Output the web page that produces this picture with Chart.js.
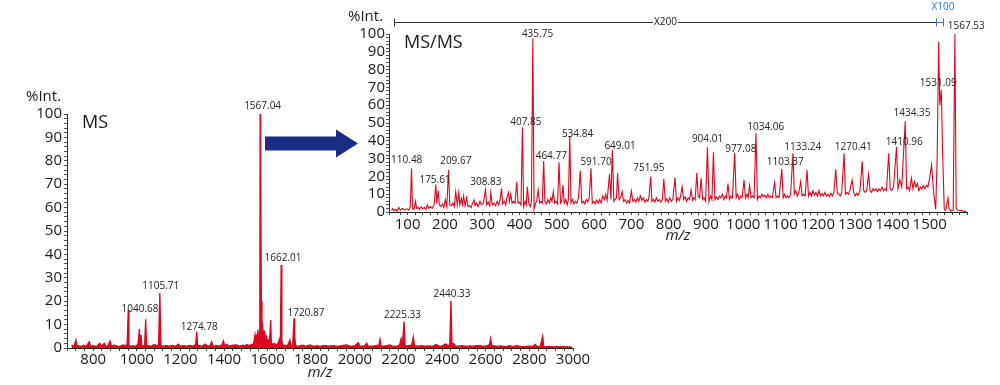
<!DOCTYPE html>
<html><head><meta charset="utf-8">
<script src="https://cdn.jsdelivr.net/npm/chart.js@4.4.0/dist/chart.umd.min.js"></script>
<style>
html,body{margin:0;padding:0;background:#fff;width:1000px;height:385px;overflow:hidden;}
canvas{position:absolute;left:0;top:0;}
</style></head><body>
<canvas id="ms" width="1000" height="385"></canvas>
<canvas id="msms" width="1000" height="385"></canvas>
<script>
// ---------- MS spectrum (m/z, %Int.) ----------
const msMz = [701,712,721,726,732,745,755,768,782,788,801,815,831,838,851,858,868,877,884,896,908,920,938,950,956,961,964,975,984,995,1005,1012,1015,1019,1023,1030,1036,1040.68,1045,1053,1065,1075,1083,1092,1100,1105.71,1108,1111,1120,1130,1137,1150,1165,1178,1190,1200,1212,1229,1245,1258,1270,1274.78,1279,1290,1300,1313,1325,1336,1343,1350,1366,1380,1392,1397,1403,1412,1425,1440,1458,1470,1485,1496,1504,1515,1525,1535,1542,1546,1553,1557,1561,1564,1565.5,1567.04,1569,1571,1574,1578,1582,1586,1590,1594,1598,1603,1608,1614,1617,1623,1630,1640,1648,1655,1658,1662.01,1665,1670,1680,1690,1702,1706,1715,1720.87,1724,1728,1740,1748,1760,1775,1794,1810,1825,1840,1860,1880,1901,1920,1940,1962,1980,2000,2016,2022,2031,2045,2054,2060,2077,2095,2110,2115,2120,2130,2145,2161,2175,2192,2205,2212,2218,2225.33,2230,2245,2260,2268,2273,2290,2305,2321,2340,2355,2372,2385,2398,2416,2428,2435,2440.33,2445,2456,2462,2474,2490,2510,2525,2543,2560,2574,2590,2605,2617,2622,2628,2635,2650,2670,2685,2696,2710,2725,2742,2760,2780,2800,2815,2826,2835,2850,2861,2866,2872,2890,2910,2925,2940,2960,2980,2996];
const msInt = [1.3,0.7,3.4,0.8,1.0,0.6,1.2,0.7,2.7,0.8,1.0,0.6,2.0,0.8,2.0,0.7,1.0,3.0,0.8,1.2,0.9,0.6,1.3,0.8,2.0,16.2,1.0,0.8,1.0,0.7,1.5,8.1,1.5,5.6,1.0,1.0,1.2,12.3,1.0,1.0,0.7,1.2,1.5,0.8,1.5,23.6,13.4,1.0,0.7,1.0,1.0,0.8,1.1,0.7,1.7,0.8,1.0,0.8,1.1,0.8,1.5,7.0,1.0,1.0,0.7,1.7,0.8,1.0,2.7,0.8,1.0,0.8,1.5,3.1,1.2,1.5,0.8,1.2,1.3,0.8,1.2,0.9,1.5,1.0,1.5,1.8,5.6,2.0,6.3,3.0,7.7,8.0,100,100,84.6,20,12,8,6,7,4.5,5,3,3.5,2,12,2,1.5,2,1.2,2.2,4,2,35.5,3,1.0,1.2,0.8,3.4,1.0,1.5,12.7,5,1.0,0.8,0.9,1.2,0.7,1.3,0.7,1.0,0.7,1.1,0.8,1.0,0.7,1.0,1.3,0.7,1.0,2.3,0.8,0.8,1.0,2.0,0.8,0.8,1.0,1.2,3.7,0.9,0.8,1.0,1.3,0.7,0.8,1.2,4.1,1.5,11.3,1.0,1.0,1.2,4.8,1.0,0.8,1.0,0.8,0.9,0.7,1.5,0.8,0.8,1.7,1.0,1.5,20.2,2.0,1.7,0.8,0.8,1.0,0.7,0.9,0.8,1.0,1.0,0.7,0.9,1.5,4.1,1.0,1.0,0.7,0.9,0.6,0.7,1.0,0.6,1.0,0.7,0.6,0.8,0.6,1.5,0.7,0.8,5.1,0.6,0.5,0.7,0.5,0.6,0.6,0.5,0.5,0.4];
const msLabels = ['1567.04','1662.01','1105.71','1040.68','1274.78','1720.87','2225.33','2440.33'];
const msLabelMz = [1576.8,1670.4,1110,1014.7,1286.1,1775.8,2218.3,2445.2];
const msLabelInt = [103.4,38.5,26.5,16.5,8.8,14.8,14.1,22.9];
const msXTicks = [800,1000,1200,1400,1600,1800,2000,2200,2400,2600,2800,3000];

// ---------- MS/MS spectrum (m/z, %Int.) ----------
const msmsMz = [57,60,64,68,72,76,80,86,92,98,103,107,110.48,113,117,121,124,128,132,136,140,145,149,153,157,161,166,171,175.61,178,182,185,189,193,197,201,205,209.67,213,217,221,225,229,233,237,240,244,247,250,254,258,262,266,270,274,278,281,285,289,294,298,303,308.83,312,316,320,323,327,331,336,340,344,348,351.6,355,359,363,366,370.4,373,376.6,380,384,388,392.7,396,400,404,407.85,411,415,418,421,425,429,432,435.75,439,443,446,450,454,458,461,464.77,468,472,476,480,484,487,490.6,494,498,502,505.9,510,513,516.6,520,524,528,531,534.84,538,542,546,550,554,558,563,567,571,575,579,583,587,591.7,595,599,603,607,611,615,619,623,627,631,635,641.4,645,649.01,653,656,660,663,667,671,675.5,679,683,687,691,695,700,704,708,712,716,720,724,728,732,736,740,744,747,751.95,755,759,763,767,771,775,779,783,787,791,795,799,803,807,811,817,821,825,829,832,836,840,844,848,852,856,860,864,868,871,875.5,879,883,887,891,895,899,904.01,908,912,916,920,924,928,932,936,940,944,948,952,955,959,963,967,971,977.08,981,985,989,993,997,1002,1006,1010,1013,1017,1021,1025,1029,1034.06,1038,1042,1046,1050,1054,1058,1062,1066,1070,1074,1078,1084,1088,1092,1096,1103.37,1107,1111,1115,1119,1123,1127,1133.24,1137,1141,1145,1149,1154,1158,1162,1166,1171,1175,1179,1183,1187,1191,1195,1199,1203,1207,1211,1215,1219,1223,1227,1231,1235,1239,1243,1248,1252,1256,1260,1264,1270.41,1274,1278,1282,1286,1292,1296,1300,1304,1308,1313,1319,1323,1327,1331,1336,1340,1344,1348,1352,1356,1360,1364,1368,1372,1376,1380,1384,1390,1394,1398,1403,1410.96,1415,1420,1425,1434.35,1438,1442,1446,1451,1455,1459,1463,1467,1471,1475,1479,1483,1487,1491,1495,1499,1505,1511,1516,1520,1524,1527,1531.09,1535,1539,1543,1549,1552,1557,1563,1567.53,1571,1576,1582,1590,1598];
const msmsInt = [0.8,2,0.8,1.5,0.6,2.5,1,2,1.2,1.8,1,3,24.5,2,1.5,6,2,2.5,1.5,3,1.8,2.5,1.5,4,2,3,2,4,15.5,5,12,4,3,4.5,2.5,7,3,23.6,4,3.5,5,3,11.4,4,10.9,4,7.5,4,9,3.5,8,3,3.5,2.5,5,6.7,3.5,5,3,6,4,5,12.7,4,5.5,3.5,10.9,4,5,3.5,6,4,7,13.3,4.5,6,4,8,11,6,10,5,6,5,16.9,5,5.5,4,47.6,3,6,4,14.2,5,3,6,97.6,1.5,5,6,12.4,5,6,5,28.7,6,4.5,7,5,8,6,11.4,5,6,4.5,27.9,5,6,15.2,5,7,4,7,42.7,5,7,4.5,6,5,8,23.2,5,6,4.5,7,5.5,8,24.5,5,6,4.5,6.7,5,7,5,9,7,10,6.5,21.3,7,34.8,6,7,8,21.7,7,8,11.4,6,7,5,6.5,5,11.8,6,7,5.5,8,6,9,6.5,8,5.5,7,6,8,19.9,6,7,5.5,8,6,7,5.5,7,18.5,6,7.5,5.5,8,6,7,19.3,6,8,6.5,9,14.2,7,8.5,6,8,7,12.4,6.5,8,7,22,9,8,19,7,8,6,36.3,6,9,7,33.5,7,8.5,7,9,8,10,7,9,8,16,7,9,8,33.3,8,10,7,9,8,18,8,10,8,15,8,9,8,44.2,7,9,8,10,8.5,9.5,8,10,8,9,8,16.5,8,9,8,24.2,8,10,8,9,8,10,33,10,12,9,11,17,9,10,9,23.6,9,11,9,12,9.5,11,9,12,9,10.5,9,11,9,10,8.5,10.5,9,11,24,11,10,9,11,33,10,11,10,12,18,11,9,10.5,9.5,12,28.5,12,11,12,21,12,11,13,12,13,11.5,13,12,14,12,13,12,33,13,12,14,36.7,13,18,14,51,13,14,12,19,13,17,14,16,12,14,13,15,13,15,14,18,26.4,10,1.5,30,95.7,60,68.5,30,1.5,1,7.8,2,0.5,1,100,2,1,0.8,0.5,0.3];
const msmsLabels = ['110.48','175.61','209.67','308.83','407.85','435.75','464.77','534.84','591.70','649.01','751.95','904.01','977.08','1034.06','1103.37','1133.24','1270.41','1410.96','1434.35','1531.09','1567.53'];
const msmsLabelMz = [97.5,173.4,229.1,309.6,416.9,448.2,485.2,555.5,605.1,669.5,746.7,904.1,993.4,1060.2,1112.7,1159.7,1295.1,1431.9,1452.5,1523,1598.2];
const msmsLabelInt = [29.2,18,28.3,17,50.2,99.8,31.6,43.8,27.9,37.2,24.6,40.8,35.4,47.9,27.9,36.7,36.7,39.2,55.4,72.6,104.5];
const msmsXTicks = [100,200,300,400,500,600,700,800,900,1000,1100,1200,1300,1400,1500];
const zoomFactors = ['X200','X100'];
const zoomFrom = [64, 1517];
const zoomTo = [1517, 1536.5];

const yTicks = [0,10,20,30,40,50,60,70,80,90,100];

Chart.defaults.font.family = "'Open Sans', sans-serif";
Chart.defaults.color = '#1a1a1a';
const RED = '#e0061d';

function axisX(min, max, step, list, h, pad, titlePad) {
  return {
    type: 'linear', min, max,
    ticks: { stepSize: step, autoSkip: false, maxRotation: 0, padding: pad,
      font: { size: 15 }, color: '#1a1a1a',
      callback: v => list.includes(v) ? String(v) : '' },
    grid: { display: true, drawOnChartArea: false, drawTicks: true, tickLength: 3, color: '#444' },
    border: { display: true, color: '#222', width: 1 },
    title: { display: true, text: 'm/z', font: { size: 15, style: 'italic' }, color: '#1a1a1a', padding: { top: 0, bottom: titlePad } },
    afterFit: s => { s.height = h; }
  };
}
function axisY(pad) {
  return {
    type: 'linear', min: 0, max: 100,
    ticks: { stepSize: 2, autoSkip: false, padding: pad, font: { size: 15 }, color: '#1a1a1a',
      callback: v => yTicks.includes(v) ? String(v) : '' },
    grid: { display: true, drawOnChartArea: false, drawTicks: true, tickLength: 3, color: '#555' },
    border: { display: true, color: '#333', width: 1, dash: [1, 1] },
    afterFit: s => { s.width = 40; }
  };
}

function annotPlugin(title, labels, lx, ly, extra) {
  return {
    id: 'annot_' + title.replace('/', ''),
    afterDraw(chart) {
      const { ctx, chartArea: a, scales: { x, y } } = chart;
      ctx.save();
      ctx.fillStyle = '#1a1a1a';
      ctx.textBaseline = 'middle';
      ctx.textAlign = 'left';
      ctx.font = "15px 'Open Sans'";
      ctx.fillText('%Int.', a.left - 41, a.top - 17);
      ctx.font = "18px 'Open Sans'";
      ctx.fillText(title, a.left + 15, a.top + 9);
      ctx.font = "10px 'Open Sans'";
      ctx.fillStyle = '#222';
      ctx.textAlign = 'center';
      labels.forEach((t, i) => ctx.fillText(t, x.getPixelForValue(lx[i]), y.getPixelForValue(ly[i])));
      if (extra) extra(ctx, a, x, y);
      ctx.restore();
    }
  };
}

// MS chart
new Chart(document.getElementById('ms'), {
  type: 'line',
  data: { datasets: [{
    data: msMz.map((m, i) => ({ x: m, y: msInt[i] })),
    borderColor: RED, backgroundColor: RED, borderWidth: 1.3, pointRadius: 0,
    tension: 0, fill: 'origin'
  }]},
  options: {
    responsive: false, animation: false,
    layout: { padding: { left: 27, right: 427, top: 114, bottom: 0 } },
    plugins: { legend: { display: false }, tooltip: { enabled: false } },
    scales: { x: axisX(680, 3000, 40, msXTicks, 37, 0, 3), y: axisY(2) }
  },
  plugins: [annotPlugin('MS', msLabels, msLabelMz, msLabelInt, (ctx) => {
    ctx.fillStyle = '#1c2b84';
    ctx.beginPath();
    ctx.moveTo(265, 136.5); ctx.lineTo(336, 136.5); ctx.lineTo(336, 129.5);
    ctx.lineTo(358, 143.5); ctx.lineTo(336, 157.5); ctx.lineTo(336, 150.5);
    ctx.lineTo(265, 150.5); ctx.closePath(); ctx.fill();
  })]
});

// MS/MS chart
new Chart(document.getElementById('msms'), {
  type: 'line',
  data: { datasets: [{
    data: msmsMz.map((m, i) => ({ x: m, y: msmsInt[i] })),
    borderColor: RED, borderWidth: 1.1, pointRadius: 0, tension: 0, fill: false
  }]},
  options: {
    responsive: false, animation: false,
    layout: { padding: { left: 349, right: 33, top: 34, bottom: 139 } },
    plugins: { legend: { display: false }, tooltip: { enabled: false } },
    scales: { x: axisX(50, 1600, 20, msmsXTicks, 34, 1, 1), y: axisY(1) }
  },
  plugins: [annotPlugin('MS/MS', msmsLabels, msmsLabelMz, msmsLabelInt, (ctx, a, x) => {
    const yb = Math.round(a.top - 12.5) + 0.5;
    ctx.lineWidth = 1;
    ctx.font = "10px 'Open Sans'";
    // X200 bracket
    const x0 = Math.round(x.getPixelForValue(zoomFrom[0])) + 0.5;
    const x1 = Math.round(x.getPixelForValue(zoomTo[0])) + 0.5;
    const cx = (x0 + x1) / 2;
    const w = ctx.measureText(zoomFactors[0]).width;
    ctx.strokeStyle = '#333';
    ctx.beginPath();
    ctx.moveTo(x0, yb - 4); ctx.lineTo(x0, yb + 4);
    ctx.moveTo(x0, yb); ctx.lineTo(cx - w / 2 - 1, yb);
    ctx.moveTo(cx + w / 2 + 1, yb); ctx.lineTo(x1, yb);
    ctx.stroke();
    ctx.fillStyle = '#222';
    ctx.textAlign = 'center';
    ctx.fillText(zoomFactors[0], cx, yb);
    // X100 bracket
    const b0 = Math.round(x.getPixelForValue(zoomFrom[1])) + 0.5;
    const b1 = Math.round(x.getPixelForValue(zoomTo[1])) + 0.5;
    ctx.strokeStyle = '#2f7bc3';
    ctx.beginPath();
    ctx.moveTo(b0, yb - 4); ctx.lineTo(b0, yb + 4);
    ctx.moveTo(b1, yb - 4); ctx.lineTo(b1, yb + 4);
    ctx.moveTo(b0, yb); ctx.lineTo(b1, yb);
    ctx.stroke();
    ctx.fillStyle = '#2f7bc3';
    ctx.fillText(zoomFactors[1], (b0 + b1) / 2 + 3, a.top - 26.7);
  })]
});
</script>
</body></html>
